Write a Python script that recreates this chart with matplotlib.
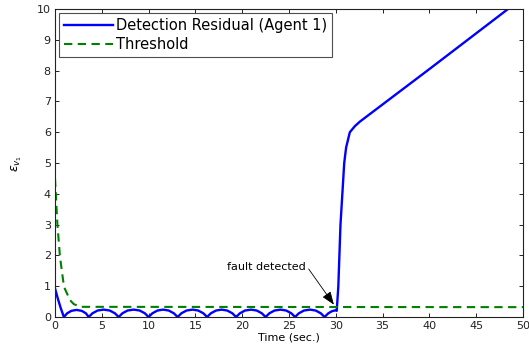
import matplotlib
matplotlib.use("Agg")
import matplotlib.pyplot as plt

# detection residual (agent 1)
t_res = [0.0, 0.3, 0.6, 0.95,
         1.3, 1.75, 2.3, 2.85, 3.3, 3.6,
         4.0, 4.55, 5.2, 5.85, 6.4, 6.8,
         7.2, 7.75, 8.4, 9.05, 9.6, 10.0,
         10.4, 10.95, 11.55, 12.15, 12.7, 13.1,
         13.5, 14.05, 14.7, 15.3, 15.85, 16.25,
         16.65, 17.2, 17.8, 18.4, 18.95, 19.35,
         19.75, 20.3, 20.95, 21.55, 22.1, 22.5,
         22.9, 23.45, 24.1, 24.7, 25.25, 25.65,
         26.05, 26.6, 27.25, 27.85, 28.4, 28.8,
         29.2, 29.6, 30.0, 30.1,
         30.27, 30.5, 30.7, 30.9, 31.1, 31.5, 32.05, 32.6,
         40.0, 48.4, 50.0]
res = [0.93, 0.6, 0.3, 0.0,
       0.12, 0.2, 0.23, 0.2, 0.12, 0.0,
       0.12, 0.21, 0.24, 0.21, 0.12, 0.0,
       0.12, 0.21, 0.24, 0.21, 0.12, 0.0,
       0.12, 0.21, 0.24, 0.21, 0.12, 0.0,
       0.12, 0.21, 0.24, 0.21, 0.12, 0.0,
       0.12, 0.21, 0.24, 0.21, 0.12, 0.0,
       0.12, 0.21, 0.24, 0.21, 0.12, 0.0,
       0.12, 0.21, 0.24, 0.21, 0.12, 0.0,
       0.12, 0.21, 0.24, 0.21, 0.12, 0.0,
       0.12, 0.19, 0.22, 0.2,
       1.0, 3.0, 4.0, 5.0, 5.5, 6.0, 6.2, 6.35,
       8.05, 10.0, 10.37]

# threshold
t_thr = [0.0, 0.25, 0.53, 0.96, 1.6, 2.0, 2.7, 50.0]
thr = [4.5, 3.04, 1.96, 0.98, 0.55, 0.42, 0.33, 0.32]

plt.rcParams['font.family'] = ['DejaVu Sans']

fig = plt.figure(figsize=(5.29, 3.5), dpi=100)
ax = fig.add_axes([55 / 529, 1 - 317 / 350, 468 / 529, 308 / 350])

ax.plot(t_res, res, color=(0, 0, 1), linewidth=1.7, label='Detection Residual (Agent 1)')
ax.plot(t_thr, thr, color=(0, 0.5, 0), linewidth=1.5, linestyle=(0, (4, 2.6)),
        label='Threshold')

ax.set_xlim(0, 50)
ax.set_ylim(0, 10)
ax.set_xticks(range(0, 51, 5))
ax.set_yticks(range(0, 11, 1))
ax.tick_params(direction='in', top=True, right=True, labelsize=8,
               length=3, width=0.7, pad=3, colors='#222222')
for sp in ax.spines.values():
    sp.set_linewidth(0.8)
    sp.set_color('#222222')

ax.set_xlabel('Time (sec.)', fontsize=8, labelpad=1)
ax.set_ylabel(r'$\epsilon_{v_1}$', fontsize=9, labelpad=9)

# text and arrow of the annotation
ax.text(22.6, 1.63, 'fault detected', ha='center', va='center', fontsize=8)
ax.annotate('', xy=(29.8, 0.40), xytext=(27.1, 1.56),
            arrowprops=dict(arrowstyle='-|>,head_length=0.8,head_width=0.3',
                            color='black', lw=0.6, mutation_scale=10,
                            shrinkA=0, shrinkB=0))

leg = ax.legend(loc='upper left', fontsize=10.5, frameon=True, fancybox=False,
                borderaxespad=0.3, handlelength=3.4, handletextpad=0.2,
                borderpad=0.3, labelspacing=0.3)
leg.get_frame().set_edgecolor('#222222')
leg.get_frame().set_linewidth(0.8)

fig.savefig('out.png', dpi=100)
